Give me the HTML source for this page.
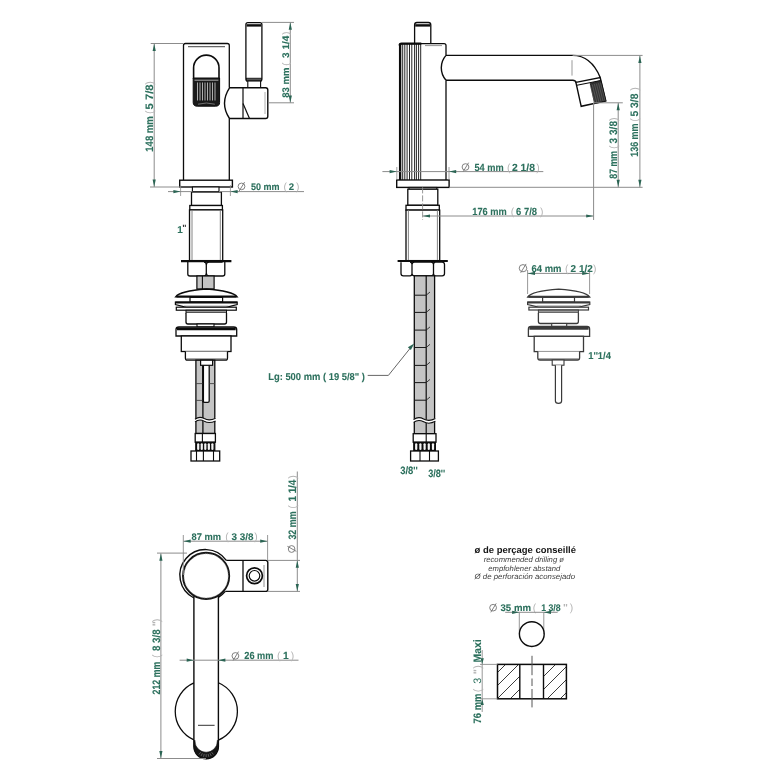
<!DOCTYPE html>
<html><head><meta charset="utf-8"><style>
html,body{margin:0;padding:0;background:#fff;width:767px;height:767px;overflow:hidden}
svg{display:block;will-change:transform}
text{text-rendering:geometricPrecision}
</style></head><body>
<svg width="767" height="767" viewBox="0 0 767 767" shape-rendering="geometricPrecision">
<rect x="0" y="0" width="767" height="767" fill="#fff"/>
<rect x="245.9" y="22.6" width="16.0" height="58.4" rx="2" fill="#fff" stroke="#0c0c0c" stroke-width="1.3"/>
<rect x="246.6" y="24.2" width="14.6" height="2.4" rx="0" fill="#0c0c0c" stroke="#0c0c0c" stroke-width="0"/>
<rect x="246.4" y="78.2" width="15.0" height="2.8" rx="0" fill="#555" stroke="#0c0c0c" stroke-width="0.8"/>
<rect x="247.8" y="81" width="12.8" height="7" rx="0" fill="#fff" stroke="#0c0c0c" stroke-width="1.1"/>
<path d="M183.5,180 L183.5,45.5 Q183.5,43.5 185.5,43.5 L227.3,43.5 Q229.3,43.5 229.3,45.5 L229.3,87.5 M229.3,118.8 L229.3,180" fill="none" stroke="#0c0c0c" stroke-width="1.3" />
<line x1="188" y1="46.6" x2="225" y2="46.6" stroke="#666" stroke-width="1.1" />
<path d="M193.6,79 L193.6,67.8 A12.7,12.7 0 0 1 219,67.8 L219,79" fill="none" stroke="#0c0c0c" stroke-width="1.6" />
<path d="M193.2,78 L219.6,78 L219.6,102.5 Q219.6,106.2 215.5,106.2 L197.3,106.2 Q193.2,106.2 193.2,102.5 Z" fill="#1a1a1a" stroke="#0c0c0c" stroke-width="1" />
<line x1="194.5" y1="80.2" x2="218.4" y2="80.2" stroke="#bbb" stroke-width="0.9" />
<line x1="197.5" y1="82.5" x2="197.5" y2="100.5" stroke="#c8c8c8" stroke-width="0.85" />
<line x1="200.0" y1="82.5" x2="200.0" y2="100.5" stroke="#c8c8c8" stroke-width="0.85" />
<line x1="202.5" y1="82.5" x2="202.5" y2="100.5" stroke="#c8c8c8" stroke-width="0.85" />
<line x1="205.0" y1="82.5" x2="205.0" y2="100.5" stroke="#c8c8c8" stroke-width="0.85" />
<line x1="207.5" y1="82.5" x2="207.5" y2="100.5" stroke="#c8c8c8" stroke-width="0.85" />
<line x1="210.0" y1="82.5" x2="210.0" y2="100.5" stroke="#c8c8c8" stroke-width="0.85" />
<line x1="212.5" y1="82.5" x2="212.5" y2="100.5" stroke="#c8c8c8" stroke-width="0.85" />
<line x1="215.0" y1="82.5" x2="215.0" y2="100.5" stroke="#c8c8c8" stroke-width="0.85" />
<path d="M198,104.2 Q206.4,101.8 214.8,104.2" fill="none" stroke="#888" stroke-width="0.8" />
<path d="M229.5,87.8 L265.6,87.8 Q267.8,87.8 267.8,90 L267.8,116.3 Q267.8,118.5 265.6,118.5 L229.5,118.5 Q219.5,103.2 229.5,87.8 Z" fill="#fff" stroke="#0c0c0c" stroke-width="1.4" />
<line x1="243" y1="87.8" x2="243" y2="118.5" stroke="#0c0c0c" stroke-width="1.2" />
<path d="M243,103.5 L249.5,118.5" fill="none" stroke="#0c0c0c" stroke-width="1.2" />
<line x1="265" y1="92" x2="265" y2="114" stroke="#999" stroke-width="0.8" />
<rect x="179.7" y="180.2" width="52.7" height="6.8" rx="0" fill="#fff" stroke="#0c0c0c" stroke-width="1.4"/>
<rect x="192.4" y="187" width="26.6" height="5" rx="0" fill="#fff" stroke="#0c0c0c" stroke-width="1.1"/>
<rect x="191.5" y="192" width="29.9" height="13.5" rx="0" fill="#fff" stroke="#0c0c0c" stroke-width="1.3"/>
<rect x="189.8" y="205.5" width="32.6" height="4.4" rx="0" fill="#fff" stroke="#0c0c0c" stroke-width="1.3"/>
<rect x="189.5" y="209.9" width="33.2" height="50.7" rx="0" fill="#fff" stroke="#0c0c0c" stroke-width="1.3"/>
<line x1="192" y1="210" x2="192" y2="260.6" stroke="#777" stroke-width="0.9" />
<line x1="220.3" y1="210" x2="220.3" y2="260.6" stroke="#777" stroke-width="0.9" />
<line x1="181" y1="261.2" x2="231.4" y2="261.2" stroke="#0c0c0c" stroke-width="2.2" />
<path d="M187.8,262 L187.8,274 Q187.8,276 190,276 L204,276 Q206.3,276 206.3,273 L206.3,265 Q206.3,262 204,262 M206.3,265 Q206.3,262 209,262 L222.6,262 L222.6,262 M206.3,273 Q206.3,276 209,276 L222.6,276 Q224.8,276 224.8,274 L224.8,262" fill="none" stroke="#0c0c0c" stroke-width="1.3" />
<rect x="196.9" y="276" width="17.2" height="13" rx="0" fill="#c4c4c4" stroke="#0c0c0c" stroke-width="1.2"/>
<line x1="202.4" y1="276" x2="202.4" y2="289" stroke="#0c0c0c" stroke-width="1.1" />
<path d="M175.6,296.8 Q180,291 206.3,289 Q232.6,291 237.2,296.8 Z" fill="#fff" stroke="#0c0c0c" stroke-width="1.3" />
<line x1="176.5" y1="296.6" x2="236.3" y2="296.6" stroke="#0c0c0c" stroke-width="2.0" />
<rect x="190" y="297.4" width="32.6" height="4.6" rx="0" fill="#fff" stroke="#0c0c0c" stroke-width="1.2"/>
<path d="M175.4,302.2 L237.2,302.2 L237.2,304.6 L226,307.4 L186.6,307.4 L175.4,304.6 Z" fill="#fff" stroke="#0c0c0c" stroke-width="1.2" />
<line x1="175.4" y1="302.6" x2="237.2" y2="302.6" stroke="#0c0c0c" stroke-width="2.0" />
<line x1="184" y1="306" x2="228.6" y2="306" stroke="#999" stroke-width="0.8" />
<rect x="176.3" y="307.2" width="60.0" height="3.0" rx="0" fill="#fff" stroke="#0c0c0c" stroke-width="1.2"/>
<rect x="186" y="310.2" width="40.5" height="2.8" rx="0" fill="#999" stroke="#0c0c0c" stroke-width="1.0"/>
<path d="M186,313 L186,322 Q186,324 188,324 L224.5,324 Q226.5,324 226.5,322 L226.5,313" fill="#fff" stroke="#0c0c0c" stroke-width="1.3" />
<rect x="197" y="324" width="17" height="3" rx="0" fill="#fff" stroke="#0c0c0c" stroke-width="1.1"/>
<path d="M176,336 L176,329.5 Q176,327 179,327 L233.7,327 Q236.7,327 236.7,329.5 L236.7,336 Z" fill="#fff" stroke="#0c0c0c" stroke-width="1.3" />
<line x1="177" y1="328.8" x2="235.7" y2="328.8" stroke="#0c0c0c" stroke-width="2.8" />
<rect x="181.3" y="336" width="49.7" height="15.5" rx="0" fill="#fff" stroke="#0c0c0c" stroke-width="1.3"/>
<path d="M185.4,351.5 L185.4,358 Q185.4,360.2 187.6,360.2 L225.3,360.2 Q227.5,360.2 227.5,358 L227.5,351.5" fill="#fff" stroke="#0c0c0c" stroke-width="1.3" />
<line x1="186.5" y1="359.2" x2="226.4" y2="359.2" stroke="#555" stroke-width="1.2" />
<rect x="195.9" y="360.2" width="18.9" height="73.3" rx="0" fill="#c4c4c4" stroke="#0c0c0c" stroke-width="1.3"/>
<line x1="202.9" y1="360.2" x2="202.9" y2="433.5" stroke="#0c0c0c" stroke-width="1.3" />
<path d="M203.2,365.2 L203.2,401 Q203.2,402.4 204.6,402.4 L207.8,402.4 Q209.2,402.4 209.2,401 L209.2,365.2" fill="#fff" stroke="#0c0c0c" stroke-width="1.3" />
<line x1="203.2" y1="365.2" x2="203.2" y2="402.4" stroke="#0c0c0c" stroke-width="1.7" />
<rect x="200.6" y="360.2" width="12.0" height="5.1" rx="0" fill="#fff" stroke="#0c0c0c" stroke-width="1.2"/>
<line x1="196" y1="383.6" x2="202.4" y2="383.6" stroke="#444" stroke-width="0.9" />
<line x1="196" y1="400.4" x2="202.4" y2="400.4" stroke="#444" stroke-width="0.9" />
<line x1="209.5" y1="383.6" x2="214.8" y2="383.6" stroke="#444" stroke-width="0.9" />
<path d="M194.5,419.5 Q199,415.5 204,418.5 Q209,421.5 216,417.5 L216,421 Q209,424.5 204,421.5 Q199,418.5 194.5,422 Z" fill="#fff" stroke="none"/>
<path d="M195,419.2 Q199.5,415.8 204.3,418.6 Q209.2,421.3 215.6,418.2" fill="none" stroke="#0c0c0c" stroke-width="1.1" />
<path d="M195,421.9 Q199.5,418.5 204.3,421.3 Q209.2,424 215.6,420.9" fill="none" stroke="#0c0c0c" stroke-width="1.1" />
<rect x="195.2" y="433.5" width="20.2" height="8.7" rx="0" fill="#fff" stroke="#0c0c0c" stroke-width="1.3"/>
<line x1="202.4" y1="433.5" x2="202.4" y2="442.2" stroke="#0c0c0c" stroke-width="1.1" />
<rect x="195.7" y="442.2" width="19.2" height="8.8" rx="0" fill="#0c0c0c" stroke="#0c0c0c" stroke-width="1.0"/>
<rect x="197.10" y="443.2" width="2.2" height="6.8" rx="1.1" fill="#f4f4f4"/>
<rect x="200.65" y="443.2" width="2.2" height="6.8" rx="1.1" fill="#f4f4f4"/>
<rect x="204.20" y="443.2" width="2.2" height="6.8" rx="1.1" fill="#f4f4f4"/>
<rect x="207.75" y="443.2" width="2.2" height="6.8" rx="1.1" fill="#f4f4f4"/>
<rect x="211.30" y="443.2" width="2.2" height="6.8" rx="1.1" fill="#f4f4f4"/>
<rect x="191" y="451" width="28.7" height="10" rx="0" fill="#fff" stroke="#0c0c0c" stroke-width="1.3"/>
<line x1="196.5" y1="451" x2="196.5" y2="461" stroke="#0c0c0c" stroke-width="1.1" />
<line x1="203.4" y1="451" x2="203.4" y2="461" stroke="#0c0c0c" stroke-width="1.1" />
<line x1="213.5" y1="451" x2="213.5" y2="461" stroke="#0c0c0c" stroke-width="1.1" />
<line x1="150.7" y1="43.5" x2="183" y2="43.5" stroke="#8c8c8c" stroke-width="1" />
<line x1="154.2" y1="43.5" x2="154.2" y2="187" stroke="#8c8c8c" stroke-width="1" />
<line x1="150" y1="187" x2="180" y2="187" stroke="#8c8c8c" stroke-width="1" />
<polygon points="154.20,43.70 152.60,50.90 155.80,50.90" fill="#2a6453"/>
<polygon points="154.20,186.80 152.60,179.60 155.80,179.60" fill="#2a6453"/>
<text transform="translate(153.4,151.7) rotate(-90)" x="0" y="0" textLength="35.5" lengthAdjust="spacingAndGlyphs" font-family="Liberation Sans" font-size="10.8" font-weight="bold" fill="#2c705d" stroke="#2c705d" stroke-width="0.1">148 mm</text>
<text transform="translate(153.4,113.2) rotate(-90)" x="-0.7" y="0" font-family="Liberation Sans" font-size="10.8" font-weight="normal" fill="#b4b4b4">(</text>
<text transform="translate(153.4,109.4) rotate(-90)" x="0" y="0" textLength="25.0" lengthAdjust="spacingAndGlyphs" font-family="Liberation Sans" font-size="10.8" font-weight="bold" fill="#2c705d" stroke="#2c705d" stroke-width="0.1">5 7/8</text>
<text transform="translate(153.4,84) rotate(-90)" x="-0.7" y="0" font-family="Liberation Sans" font-size="10.8" font-weight="normal" fill="#b4b4b4">)</text>
<line x1="262" y1="22.4" x2="294" y2="22.4" stroke="#8c8c8c" stroke-width="1" />
<line x1="269" y1="102.8" x2="294" y2="102.8" stroke="#8c8c8c" stroke-width="1" />
<line x1="290.3" y1="22.4" x2="290.3" y2="102.8" stroke="#8c8c8c" stroke-width="1" />
<polygon points="290.30,22.60 288.70,29.80 291.90,29.80" fill="#2a6453"/>
<polygon points="290.30,102.60 288.70,95.40 291.90,95.40" fill="#2a6453"/>
<text transform="translate(289.1,97.7) rotate(-90)" x="0" y="0" textLength="30.3" lengthAdjust="spacingAndGlyphs" font-family="Liberation Sans" font-size="9.6" font-weight="bold" fill="#2c705d" stroke="#2c705d" stroke-width="0.1">83 mm</text>
<text transform="translate(289.1,65) rotate(-90)" x="-0.7" y="0" font-family="Liberation Sans" font-size="9.6" font-weight="normal" fill="#b4b4b4">(</text>
<text transform="translate(289.1,58) rotate(-90)" x="0" y="0" textLength="22.4" lengthAdjust="spacingAndGlyphs" font-family="Liberation Sans" font-size="9.6" font-weight="bold" fill="#2c705d" stroke="#2c705d" stroke-width="0.1">3 1/4</text>
<text transform="translate(289.1,34) rotate(-90)" x="-0.7" y="0" font-family="Liberation Sans" font-size="9.6" font-weight="normal" fill="#b4b4b4">)</text>
<line x1="168" y1="191.6" x2="192.4" y2="191.6" stroke="#8c8c8c" stroke-width="1" />
<line x1="219" y1="191.6" x2="304" y2="191.6" stroke="#8c8c8c" stroke-width="1" />
<line x1="180.6" y1="185" x2="180.6" y2="196" stroke="#8c8c8c" stroke-width="0.8" />
<line x1="230.4" y1="185" x2="230.4" y2="196" stroke="#8c8c8c" stroke-width="0.8" />
<polygon points="180.60,191.60 173.40,190.00 173.40,193.20" fill="#2a6453"/>
<polygon points="230.40,191.60 237.60,190.00 237.60,193.20" fill="#2a6453"/>
<ellipse cx="241.5" cy="186.4" rx="3.4" ry="3.3" fill="none" stroke="#7a7a7a" stroke-width="0.95"/>
<line x1="244.6" y1="182.1" x2="239.2" y2="191.0" stroke="#7a7a7a" stroke-width="0.95"/>
<text x="250.9" y="190.2" textLength="28.6" lengthAdjust="spacingAndGlyphs" font-family="Liberation Sans" font-size="9.6" font-weight="bold" font-style="normal" fill="#2c705d" stroke="#2c705d" stroke-width="0.1">50 mm</text>
<text x="283.5" y="190.2" font-family="Liberation Sans" font-size="10.3" font-weight="normal" font-style="normal" fill="#b4b4b4">(</text>
<text x="288.7" y="190.2" font-family="Liberation Sans" font-size="9.6" font-weight="bold" font-style="normal" fill="#2c705d" stroke="#2c705d" stroke-width="0.1">2</text>
<text x="295.9" y="190.2" font-family="Liberation Sans" font-size="10.3" font-weight="normal" font-style="normal" fill="#b4b4b4">)</text>
<text x="177.2" y="232.9" font-family="Liberation Sans" font-size="10" font-weight="bold" font-style="normal" fill="#2c705d" stroke="#2c705d" stroke-width="0.1">1</text>
<text x="182.3" y="231" font-family="Liberation Sans" font-size="9" font-weight="bold" font-style="normal" fill="#333">"</text>
<path d="M414.6,43.6 L414.6,25 Q414.6,22.5 417,22.5 L428.4,22.5 Q430.8,22.5 430.8,25 L430.8,43.6" fill="#fff" stroke="#0c0c0c" stroke-width="1.3" />
<rect x="415.2" y="24.2" width="15.0" height="2.4" rx="0" fill="#0c0c0c" stroke="#0c0c0c" stroke-width="0"/>
<path d="M399.6,180 L399.6,45.6 Q399.6,43.6 401.6,43.6 L444,43.6 Q446,43.6 446,45.6 L446,55.2 M446,80.4 L446,180" fill="none" stroke="#0c0c0c" stroke-width="1.3" />
<rect x="399.2" y="43.8" width="2.1" height="136.2" rx="0" fill="#0c0c0c" stroke="#0c0c0c" stroke-width="0"/>
<line x1="402.7" y1="43.6" x2="402.7" y2="180" stroke="#1a1a1a" stroke-width="0.95" />
<line x1="404.8" y1="43.6" x2="404.8" y2="180" stroke="#1a1a1a" stroke-width="0.95" />
<line x1="407.1" y1="43.6" x2="407.1" y2="180" stroke="#1a1a1a" stroke-width="0.95" />
<line x1="409.5" y1="43.6" x2="409.5" y2="180" stroke="#1a1a1a" stroke-width="0.95" />
<line x1="411.8" y1="43.6" x2="411.8" y2="180" stroke="#1a1a1a" stroke-width="0.95" />
<line x1="414.6" y1="43.6" x2="414.6" y2="180" stroke="#1a1a1a" stroke-width="0.95" />
<line x1="416.4" y1="43.6" x2="416.4" y2="180" stroke="#1a1a1a" stroke-width="0.95" />
<line x1="418.6" y1="43.6" x2="418.6" y2="180" stroke="#1a1a1a" stroke-width="0.95" />
<line x1="420.7" y1="43.6" x2="420.7" y2="180" stroke="#1a1a1a" stroke-width="0.95" />
<path d="M399.6,45.6 Q399.6,43.6 401.6,43.6 L421.3,43.6" fill="none" stroke="#0c0c0c" stroke-width="2.2" />
<line x1="425" y1="45.6" x2="442" y2="45.6" stroke="#888" stroke-width="0.9" />
<path d="M446,55.4 L572.6,55.4 Q591,55.4 600.2,77.4 M446,80.3 L572.8,80.3 Q575.4,80.3 576.4,83" fill="none" stroke="#0c0c0c" stroke-width="1.4" />
<path d="M446,55.4 A18.8,18.8 0 0 0 446,80.3" fill="none" stroke="#0c0c0c" stroke-width="1.4" />
<line x1="572" y1="60.2" x2="572" y2="75.6" stroke="#999" stroke-width="1.0" />
<path d="M575.9,82.4 L600.2,77.6 L605.8,101 L581.2,106.3 Z" fill="#fff" stroke="#0c0c0c" stroke-width="1.4" />
<path d="M576.9,85.2 L600.9,80.5" fill="none" stroke="#0c0c0c" stroke-width="1.1" />
<path d="M590.2,83.4 L600.9,80.5 L605.8,101 L594.6,103.5 Z" fill="#333" stroke="#0c0c0c" stroke-width="0.8" />
<line x1="590.20" y1="85.00" x2="594.80" y2="103.00" stroke="#777" stroke-width="0.5"/>
<line x1="592.28" y1="84.56" x2="596.88" y2="102.56" stroke="#777" stroke-width="0.5"/>
<line x1="594.36" y1="84.12" x2="598.96" y2="102.12" stroke="#777" stroke-width="0.5"/>
<line x1="596.44" y1="83.68" x2="601.04" y2="101.68" stroke="#777" stroke-width="0.5"/>
<line x1="598.52" y1="83.24" x2="603.12" y2="101.24" stroke="#777" stroke-width="0.5"/>
<line x1="600.60" y1="82.80" x2="605.20" y2="100.80" stroke="#777" stroke-width="0.5"/>
<rect x="396.7" y="180" width="52.4" height="7.4" rx="0" fill="#fff" stroke="#0c0c0c" stroke-width="1.4"/>
<rect x="409" y="187.4" width="27.8" height="1.8" rx="0" fill="#fff" stroke="#0c0c0c" stroke-width="1.0"/>
<rect x="407.8" y="189.2" width="30.0" height="16.1" rx="0" fill="#fff" stroke="#0c0c0c" stroke-width="1.3"/>
<rect x="406" y="205.3" width="33.3" height="4.8" rx="0" fill="#fff" stroke="#0c0c0c" stroke-width="1.3"/>
<rect x="406" y="210.1" width="33.7" height="50.5" rx="0" fill="#fff" stroke="#0c0c0c" stroke-width="1.3"/>
<line x1="408.4" y1="210.1" x2="408.4" y2="260.6" stroke="#777" stroke-width="0.9" />
<line x1="437.4" y1="210.1" x2="437.4" y2="260.6" stroke="#777" stroke-width="0.9" />
<line x1="397.6" y1="261" x2="447.8" y2="261" stroke="#0c0c0c" stroke-width="2.2" />
<path d="M401,262.2 L401,273.5 Q401,275.8 403.3,275.8 L410,275.8 Q412,275.8 412,273.5 L412,264.5 Q412,262.2 410,262.2 M412,264.5 Q412,262.2 414.5,262.2 L431,262.2 Q433.5,262.2 433.5,264.5 L433.5,273.5 Q433.5,275.8 431,275.8 L414.5,275.8 Q412,275.8 412,273.5 M433.5,264.5 Q433.5,262.2 435.5,262.2 L442.2,262.2 Q444.5,262.2 444.5,264.5 L444.5,273.5 Q444.5,275.8 442.2,275.8 L435.5,275.8 Q433.5,275.8 433.5,273.5" fill="none" stroke="#0c0c0c" stroke-width="1.3" />
<rect x="414.3" y="275.8" width="20.3" height="157.9" rx="0" fill="#c4c4c4" stroke="#0c0c0c" stroke-width="1.3"/>
<line x1="426.2" y1="275.8" x2="426.2" y2="433.7" stroke="#0c0c0c" stroke-width="1.2" />
<line x1="414.3" y1="295.2" x2="426.2" y2="295.2" stroke="#1a1a1a" stroke-width="1.05" />
<line x1="426.2" y1="295.2" x2="430" y2="292.0" stroke="#222" stroke-width="0.85" />
<line x1="414.3" y1="312.4" x2="426.2" y2="312.4" stroke="#1a1a1a" stroke-width="1.05" />
<line x1="426.2" y1="312.4" x2="430" y2="309.2" stroke="#222" stroke-width="0.85" />
<line x1="414.3" y1="330.1" x2="426.2" y2="330.1" stroke="#1a1a1a" stroke-width="1.05" />
<line x1="426.2" y1="330.1" x2="430" y2="326.90000000000003" stroke="#222" stroke-width="0.85" />
<line x1="414.3" y1="347.5" x2="426.2" y2="347.5" stroke="#1a1a1a" stroke-width="1.05" />
<line x1="426.2" y1="347.5" x2="430" y2="344.3" stroke="#222" stroke-width="0.85" />
<line x1="414.3" y1="365.4" x2="426.2" y2="365.4" stroke="#1a1a1a" stroke-width="1.05" />
<line x1="426.2" y1="365.4" x2="430" y2="362.2" stroke="#222" stroke-width="0.85" />
<line x1="414.3" y1="382.6" x2="426.2" y2="382.6" stroke="#1a1a1a" stroke-width="1.05" />
<line x1="426.2" y1="382.6" x2="430" y2="379.40000000000003" stroke="#222" stroke-width="0.85" />
<line x1="414.3" y1="400.2" x2="426.2" y2="400.2" stroke="#1a1a1a" stroke-width="1.05" />
<line x1="426.2" y1="400.2" x2="430" y2="397.0" stroke="#222" stroke-width="0.85" />
<path d="M413,419.8 Q418,415.8 423.5,418.8 Q429,421.8 436,417.8 L436,421.5 Q429,425 423.5,422 Q418,419 413,422.5 Z" fill="#fff" stroke="none"/>
<path d="M413.6,419.6 Q418.3,416 423.6,419 Q429,422 435.4,418.5" fill="none" stroke="#0c0c0c" stroke-width="1.1" />
<path d="M413.6,422.4 Q418.3,418.8 423.6,421.8 Q429,424.8 435.4,421.3" fill="none" stroke="#0c0c0c" stroke-width="1.1" />
<rect x="413.2" y="433.7" width="22.8" height="8.5" rx="0" fill="#fff" stroke="#0c0c0c" stroke-width="1.3"/>
<line x1="426.2" y1="433.7" x2="426.2" y2="442.2" stroke="#0c0c0c" stroke-width="1.1" />
<rect x="413.7" y="442.2" width="21.8" height="8.8" rx="0" fill="#0c0c0c" stroke="#0c0c0c" stroke-width="1.0"/>
<rect x="415.10" y="443.2" width="2.2" height="6.8" rx="1.1" fill="#f4f4f4"/>
<rect x="419.30" y="443.2" width="2.2" height="6.8" rx="1.1" fill="#f4f4f4"/>
<rect x="423.50" y="443.2" width="2.2" height="6.8" rx="1.1" fill="#f4f4f4"/>
<rect x="427.70" y="443.2" width="2.2" height="6.8" rx="1.1" fill="#f4f4f4"/>
<rect x="431.90" y="443.2" width="2.2" height="6.8" rx="1.1" fill="#f4f4f4"/>
<rect x="410.6" y="451" width="27.8" height="10" rx="0" fill="#fff" stroke="#0c0c0c" stroke-width="1.3"/>
<line x1="420" y1="451" x2="420" y2="461" stroke="#0c0c0c" stroke-width="1.1" />
<line x1="429.5" y1="451" x2="429.5" y2="461" stroke="#0c0c0c" stroke-width="1.1" />
<text x="400.2" y="473.8" textLength="17.6" lengthAdjust="spacingAndGlyphs" font-family="Liberation Sans" font-size="10.6" font-weight="bold" font-style="normal" fill="#2c705d" stroke="#2c705d" stroke-width="0.1">3/8''</text>
<text x="428.2" y="476.5" textLength="17.0" lengthAdjust="spacingAndGlyphs" font-family="Liberation Sans" font-size="10.6" font-weight="bold" font-style="normal" fill="#2c705d" stroke="#2c705d" stroke-width="0.1">3/8''</text>
<line x1="382.4" y1="171.6" x2="543.3" y2="171.6" stroke="#8c8c8c" stroke-width="1" />
<line x1="396.8" y1="167" x2="396.8" y2="180" stroke="#8c8c8c" stroke-width="0.8" />
<line x1="449" y1="167" x2="449" y2="180" stroke="#8c8c8c" stroke-width="0.8" />
<polygon points="396.80,171.60 389.60,170.00 389.60,173.20" fill="#2a6453"/>
<polygon points="449.00,171.60 456.20,170.00 456.20,173.20" fill="#2a6453"/>
<ellipse cx="465.5" cy="167" rx="3.4" ry="3.3" fill="none" stroke="#7a7a7a" stroke-width="0.95"/>
<line x1="468.6" y1="162.7" x2="463.2" y2="171.6" stroke="#7a7a7a" stroke-width="0.95"/>
<text x="474.4" y="170.6" textLength="29.2" lengthAdjust="spacingAndGlyphs" font-family="Liberation Sans" font-size="10.3" font-weight="bold" font-style="normal" fill="#2c705d" stroke="#2c705d" stroke-width="0.1">54 mm</text>
<text x="506.9" y="170.6" font-family="Liberation Sans" font-size="10.3" font-weight="normal" font-style="normal" fill="#b4b4b4">(</text>
<text x="512" y="170.6" textLength="22.9" lengthAdjust="spacingAndGlyphs" font-family="Liberation Sans" font-size="10.3" font-weight="bold" font-style="normal" fill="#2c705d" stroke="#2c705d" stroke-width="0.1">2 1/8</text>
<text x="536.3" y="170.6" font-family="Liberation Sans" font-size="10.3" font-weight="normal" font-style="normal" fill="#b4b4b4">)</text>
<line x1="422.6" y1="187.4" x2="422.6" y2="220" stroke="#8c8c8c" stroke-width="0.9" stroke-dasharray="6,2"/>
<line x1="593.6" y1="103" x2="593.6" y2="220" stroke="#8c8c8c" stroke-width="1" />
<line x1="422.6" y1="216" x2="593.6" y2="216" stroke="#8c8c8c" stroke-width="1" />
<polygon points="422.80,216.00 430.00,214.40 430.00,217.60" fill="#2a6453"/>
<polygon points="593.40,216.00 586.20,214.40 586.20,217.60" fill="#2a6453"/>
<text x="472.3" y="215.4" textLength="34.5" lengthAdjust="spacingAndGlyphs" font-family="Liberation Sans" font-size="10.3" font-weight="bold" font-style="normal" fill="#2c705d" stroke="#2c705d" stroke-width="0.1">176 mm</text>
<text x="510.7" y="215.4" font-family="Liberation Sans" font-size="10.3" font-weight="normal" font-style="normal" fill="#b4b4b4">(</text>
<text x="516.1" y="215.4" textLength="20.9" lengthAdjust="spacingAndGlyphs" font-family="Liberation Sans" font-size="10.3" font-weight="bold" font-style="normal" fill="#2c705d" stroke="#2c705d" stroke-width="0.1">6 7/8</text>
<text x="539.9" y="215.4" font-family="Liberation Sans" font-size="10.3" font-weight="normal" font-style="normal" fill="#b4b4b4">)</text>
<line x1="572.6" y1="55.4" x2="642.6" y2="55.4" stroke="#8c8c8c" stroke-width="1" />
<line x1="449.1" y1="187.3" x2="642.6" y2="187.3" stroke="#8c8c8c" stroke-width="1" />
<line x1="593.6" y1="102.8" x2="622.8" y2="102.8" stroke="#8c8c8c" stroke-width="1" />
<line x1="639.9" y1="55.6" x2="639.9" y2="187.3" stroke="#8c8c8c" stroke-width="1" />
<line x1="618.2" y1="102.8" x2="618.2" y2="187.3" stroke="#8c8c8c" stroke-width="1" />
<polygon points="639.90,55.80 638.30,63.00 641.50,63.00" fill="#2a6453"/>
<polygon points="639.90,187.00 638.30,179.80 641.50,179.80" fill="#2a6453"/>
<polygon points="618.20,103.00 616.60,110.20 619.80,110.20" fill="#2a6453"/>
<polygon points="618.20,187.00 616.60,179.80 619.80,179.80" fill="#2a6453"/>
<text transform="translate(616.8,178.7) rotate(-90)" x="0" y="0" textLength="27.9" lengthAdjust="spacingAndGlyphs" font-family="Liberation Sans" font-size="10.8" font-weight="bold" fill="#2c705d" stroke="#2c705d" stroke-width="0.1">87 mm</text>
<text transform="translate(616.8,148.2) rotate(-90)" x="-0.7" y="0" font-family="Liberation Sans" font-size="10.8" font-weight="normal" fill="#b4b4b4">(</text>
<text transform="translate(616.8,143.4) rotate(-90)" x="0" y="0" textLength="22.4" lengthAdjust="spacingAndGlyphs" font-family="Liberation Sans" font-size="10.8" font-weight="bold" fill="#2c705d" stroke="#2c705d" stroke-width="0.1">3 3/8</text>
<text transform="translate(616.8,120.3) rotate(-90)" x="-0.7" y="0" font-family="Liberation Sans" font-size="10.8" font-weight="normal" fill="#b4b4b4">)</text>
<text transform="translate(638.2,156.8) rotate(-90)" x="0" y="0" textLength="33.3" lengthAdjust="spacingAndGlyphs" font-family="Liberation Sans" font-size="10.8" font-weight="bold" fill="#2c705d" stroke="#2c705d" stroke-width="0.1">136 mm</text>
<text transform="translate(638.2,121) rotate(-90)" x="-0.7" y="0" font-family="Liberation Sans" font-size="10.8" font-weight="normal" fill="#b4b4b4">(</text>
<text transform="translate(638.2,116.5) rotate(-90)" x="0" y="0" textLength="23.0" lengthAdjust="spacingAndGlyphs" font-family="Liberation Sans" font-size="10.8" font-weight="bold" fill="#2c705d" stroke="#2c705d" stroke-width="0.1">5 3/8</text>
<text transform="translate(638.2,90) rotate(-90)" x="-0.7" y="0" font-family="Liberation Sans" font-size="10.8" font-weight="normal" fill="#b4b4b4">)</text>
<text x="268.2" y="379.6" textLength="96.8" lengthAdjust="spacingAndGlyphs" font-family="Liberation Sans" font-size="10" font-weight="bold" font-style="normal" fill="#2c705d" stroke="#2c705d" stroke-width="0.1">Lg: 500 mm ( 19 5/8" )</text>
<path d="M367.7,375.4 L388.4,375.4 L411.5,346.6" fill="none" stroke="#666" stroke-width="1.0" />
<polygon points="414.2,343.6 407.9,347.2 410.9,350.0" fill="#2a6453"/>
<path d="M527.8,297 Q532,291.2 558.7,289.2 Q585.4,291.2 589.6,297 Z" fill="#fff" stroke="#3a3a3a" stroke-width="1.3" />
<line x1="528.8" y1="296.8" x2="588.6" y2="296.8" stroke="#3a3a3a" stroke-width="2.0" />
<rect x="542.6" y="297.4" width="31.9" height="4.8" rx="0" fill="#fff" stroke="#3a3a3a" stroke-width="1.2"/>
<path d="M527.6,302.2 L589.8,302.2 L589.8,304.6 L578.6,307.2 L538.8,307.2 L527.6,304.6 Z" fill="#fff" stroke="#3a3a3a" stroke-width="1.2" />
<line x1="527.6" y1="302.6" x2="589.8" y2="302.6" stroke="#3a3a3a" stroke-width="2.0" />
<line x1="536.5" y1="305.8" x2="581" y2="305.8" stroke="#999" stroke-width="0.8" />
<rect x="528.9" y="307.2" width="59.6" height="2.8" rx="0" fill="#fff" stroke="#3a3a3a" stroke-width="1.2"/>
<rect x="538.4" y="310" width="40.0" height="3" rx="0" fill="#999" stroke="#3a3a3a" stroke-width="1.0"/>
<path d="M538.4,313 L538.4,321.6 Q538.4,323.5 540.3,323.5 L576.5,323.5 Q578.4,323.5 578.4,321.6 L578.4,313" fill="#fff" stroke="#3a3a3a" stroke-width="1.3" />
<rect x="551.7" y="323.5" width="15.0" height="3.0" rx="0" fill="#fff" stroke="#3a3a3a" stroke-width="1.1"/>
<path d="M528.4,336.3 L528.4,329 Q528.4,326.5 531,326.5 L587,326.5 Q589.6,326.5 589.6,329 L589.6,336.3 Z" fill="#fff" stroke="#3a3a3a" stroke-width="1.3" />
<line x1="529.4" y1="328.3" x2="588.6" y2="328.3" stroke="#3a3a3a" stroke-width="2.8" />
<rect x="534.2" y="336.3" width="49.3" height="15.3" rx="0" fill="#fff" stroke="#3a3a3a" stroke-width="1.3"/>
<path d="M537.8,351.6 L537.8,357.8 Q537.8,360 540,360 L577.4,360 Q579.6,360 579.6,357.8 L579.6,351.6" fill="#fff" stroke="#3a3a3a" stroke-width="1.3" />
<line x1="538.8" y1="359" x2="578.6" y2="359" stroke="#555" stroke-width="1.2" />
<rect x="552.2" y="360" width="11.8" height="5.2" rx="0" fill="#fff" stroke="#3a3a3a" stroke-width="1.1"/>
<path d="M555.4,365.2 L555.4,401 Q555.4,403.3 558.5,403.3 Q561.6,403.3 561.6,401 L561.6,365.2" fill="#fff" stroke="#3a3a3a" stroke-width="1.2" />
<text x="588.2" y="359.2" textLength="22.7" lengthAdjust="spacingAndGlyphs" font-family="Liberation Sans" font-size="10" font-weight="bold" font-style="normal" fill="#2c705d" stroke="#2c705d" stroke-width="0.1">1''1/4</text>
<line x1="527.6" y1="270" x2="527.6" y2="294" stroke="#8c8c8c" stroke-width="0.9" />
<line x1="589.6" y1="270" x2="589.6" y2="294" stroke="#8c8c8c" stroke-width="0.9" />
<line x1="527.6" y1="273.4" x2="589.6" y2="273.4" stroke="#8c8c8c" stroke-width="1" />
<polygon points="527.80,273.40 535.00,271.80 535.00,275.00" fill="#2a6453"/>
<polygon points="589.40,273.40 582.20,271.80 582.20,275.00" fill="#2a6453"/>
<ellipse cx="523" cy="268.2" rx="3.8" ry="3.6" fill="none" stroke="#7a7a7a" stroke-width="0.95"/>
<line x1="526.1" y1="263.9" x2="520.7" y2="272.8" stroke="#7a7a7a" stroke-width="0.95"/>
<text x="531.5" y="272" textLength="30.0" lengthAdjust="spacingAndGlyphs" font-family="Liberation Sans" font-size="10" font-weight="bold" font-style="normal" fill="#2c705d" stroke="#2c705d" stroke-width="0.1">64 mm</text>
<text x="565.1" y="272" font-family="Liberation Sans" font-size="10.3" font-weight="normal" font-style="normal" fill="#b4b4b4">(</text>
<text x="570.6" y="272" textLength="22.2" lengthAdjust="spacingAndGlyphs" font-family="Liberation Sans" font-size="10" font-weight="bold" font-style="normal" fill="#2c705d" stroke="#2c705d" stroke-width="0.1">2 1/2</text>
<text x="592.9" y="272" font-family="Liberation Sans" font-size="10.3" font-weight="normal" font-style="normal" fill="#b4b4b4">)</text>
<path d="M193.9,596 L193.9,746.5 A12.25,12.25 0 0 0 218.4,746.5 L218.4,596" fill="#fff" stroke="#0c0c0c" stroke-width="1.4" />
<path d="M193.9,740.5 L193.9,746.5 A12.25,12.25 0 0 0 218.4,746.5 L218.4,740.5 L217.2,740.5 L217.2,741.6 A11.05,10.6 0 0 1 195.1,741.6 L195.1,740.5 Z" fill="#161616" stroke="#0c0c0c" stroke-width="0.5" />
<line x1="211.56" y1="752.18" x2="213.45" y2="754.51" stroke="#8a8a8a" stroke-width="0.6"/>
<line x1="209.92" y1="753.23" x2="211.24" y2="755.93" stroke="#8a8a8a" stroke-width="0.6"/>
<line x1="208.08" y1="753.88" x2="208.76" y2="756.80" stroke="#8a8a8a" stroke-width="0.6"/>
<line x1="206.15" y1="754.10" x2="206.15" y2="757.10" stroke="#8a8a8a" stroke-width="0.6"/>
<line x1="204.22" y1="753.88" x2="203.54" y2="756.80" stroke="#8a8a8a" stroke-width="0.6"/>
<line x1="202.38" y1="753.23" x2="201.06" y2="755.93" stroke="#8a8a8a" stroke-width="0.6"/>
<line x1="200.74" y1="752.18" x2="198.85" y2="754.51" stroke="#8a8a8a" stroke-width="0.6"/>
<path d="M193.9,682.9 A31.1,31.1 0 0 0 193.9,739.9" fill="none" stroke="#0c0c0c" stroke-width="1.3" />
<path d="M218.4,682.75 A31.1,31.1 0 0 1 218.4,740.05" fill="none" stroke="#0c0c0c" stroke-width="1.3" />
<line x1="198" y1="725.3" x2="214.6" y2="725.3" stroke="#333" stroke-width="1.0" />
<path d="M226.3,560.4 L265.6,560.4 Q267.8,560.4 267.8,562.6 L267.8,589.2 Q267.8,591.4 265.6,591.4 L225.3,591.4" fill="none" stroke="#0c0c0c" stroke-width="1.4" />
<line x1="243" y1="560.4" x2="243" y2="591.4" stroke="#0c0c0c" stroke-width="1.3" />
<circle cx="254.5" cy="575.8" r="7.9" fill="#fff" stroke="#0c0c0c" stroke-width="1.7"/>
<circle cx="254.5" cy="575.8" r="5.3" fill="#fff" stroke="#0c0c0c" stroke-width="1.2"/>
<line x1="264" y1="565" x2="264" y2="587" stroke="#777" stroke-width="0.8" />
<path d="M193.9,598 A25.6,25.6 0 1 1 226.3,560.3" fill="none" stroke="#0c0c0c" stroke-width="1.4" />
<path d="M225.3,591.4 A25.6,25.6 0 0 1 218.4,597.3" fill="none" stroke="#0c0c0c" stroke-width="1.4" />
<circle cx="206.1" cy="575.9" r="23.1" fill="#fff" stroke="#161616" stroke-width="1.9"/>
<circle cx="206.1" cy="575.9" r="22.1" fill="none" stroke="#999" stroke-width="0.8" stroke-dasharray="0.7,1.1"/>
<line x1="183.3" y1="535" x2="183.3" y2="575" stroke="#8c8c8c" stroke-width="0.9" />
<line x1="267.6" y1="535" x2="267.6" y2="560" stroke="#8c8c8c" stroke-width="0.9" />
<line x1="183.3" y1="541.2" x2="267.6" y2="541.2" stroke="#8c8c8c" stroke-width="1" />
<polygon points="183.50,541.20 190.70,539.60 190.70,542.80" fill="#2a6453"/>
<polygon points="267.40,541.20 260.20,539.60 260.20,542.80" fill="#2a6453"/>
<text x="191.5" y="539.6" textLength="29.5" lengthAdjust="spacingAndGlyphs" font-family="Liberation Sans" font-size="9.7" font-weight="bold" font-style="normal" fill="#2c705d" stroke="#2c705d" stroke-width="0.1">87 mm</text>
<text x="225.3" y="539.8" font-family="Liberation Sans" font-size="10.3" font-weight="normal" font-style="normal" fill="#b4b4b4">(</text>
<text x="231.5" y="539.6" textLength="22.0" lengthAdjust="spacingAndGlyphs" font-family="Liberation Sans" font-size="9.7" font-weight="bold" font-style="normal" fill="#2c705d" stroke="#2c705d" stroke-width="0.1">3 3/8</text>
<text x="254.3" y="539.8" font-family="Liberation Sans" font-size="10.3" font-weight="normal" font-style="normal" fill="#b4b4b4">)</text>
<line x1="157" y1="553.1" x2="187" y2="553.1" stroke="#8c8c8c" stroke-width="1" />
<line x1="157" y1="758.5" x2="206" y2="758.5" stroke="#8c8c8c" stroke-width="1" />
<line x1="160.9" y1="553.3" x2="160.9" y2="758.4" stroke="#8c8c8c" stroke-width="1" />
<polygon points="160.90,553.50 159.30,560.70 162.50,560.70" fill="#2a6453"/>
<polygon points="160.90,758.20 159.30,751.00 162.50,751.00" fill="#2a6453"/>
<text transform="translate(159.7,694.5) rotate(-90)" x="0" y="0" textLength="32.9" lengthAdjust="spacingAndGlyphs" font-family="Liberation Sans" font-size="10.8" font-weight="bold" fill="#2c705d" stroke="#2c705d" stroke-width="0.1">212 mm</text>
<text transform="translate(159.7,657.2) rotate(-90)" x="-0.7" y="0" font-family="Liberation Sans" font-size="10.8" font-weight="normal" fill="#b4b4b4">(</text>
<text transform="translate(159.7,651) rotate(-90)" x="0" y="0" textLength="21.6" lengthAdjust="spacingAndGlyphs" font-family="Liberation Sans" font-size="10.8" font-weight="bold" fill="#2c705d" stroke="#2c705d" stroke-width="0.1">8 3/8</text>
<text transform="translate(159.7,625.6) rotate(-90)" x="-0.7" y="0" font-family="Liberation Sans" font-size="10.8" font-weight="bold" fill="#b4b4b4">"</text>
<text transform="translate(159.7,621.6) rotate(-90)" x="-0.7" y="0" font-family="Liberation Sans" font-size="10.8" font-weight="normal" fill="#b4b4b4">)</text>
<line x1="268" y1="560.4" x2="300" y2="560.4" stroke="#8c8c8c" stroke-width="1" />
<line x1="268" y1="591.4" x2="300" y2="591.4" stroke="#8c8c8c" stroke-width="1" />
<line x1="297.3" y1="471.5" x2="297.3" y2="591.4" stroke="#8c8c8c" stroke-width="1" />
<polygon points="297.30,560.60 295.70,567.80 298.90,567.80" fill="#2a6453"/>
<polygon points="297.30,591.20 295.70,584.00 298.90,584.00" fill="#2a6453"/>
<text transform="translate(295.8,539.6) rotate(-90)" x="0" y="0" textLength="28.2" lengthAdjust="spacingAndGlyphs" font-family="Liberation Sans" font-size="10.8" font-weight="bold" fill="#2c705d" stroke="#2c705d" stroke-width="0.1">32 mm</text>
<text transform="translate(295.8,508) rotate(-90)" x="-0.7" y="0" font-family="Liberation Sans" font-size="10.8" font-weight="normal" fill="#b4b4b4">(</text>
<text transform="translate(295.8,501.5) rotate(-90)" x="0" y="0" textLength="21.8" lengthAdjust="spacingAndGlyphs" font-family="Liberation Sans" font-size="10.8" font-weight="bold" fill="#2c705d" stroke="#2c705d" stroke-width="0.1">1 1/4</text>
<text transform="translate(295.8,478) rotate(-90)" x="-0.7" y="0" font-family="Liberation Sans" font-size="10.8" font-weight="normal" fill="#b4b4b4">)</text>
<ellipse cx="291.6" cy="549" rx="3.3" ry="3.4" fill="none" stroke="#7a7a7a" stroke-width="0.95"/>
<line x1="287.4" y1="546.3" x2="296.3" y2="551.3" stroke="#7a7a7a" stroke-width="0.95"/>
<line x1="179.6" y1="660.2" x2="298.5" y2="660.2" stroke="#8c8c8c" stroke-width="1" />
<polygon points="193.90,660.20 186.70,658.60 186.70,661.80" fill="#2a6453"/>
<polygon points="218.20,660.20 225.40,658.60 225.40,661.80" fill="#2a6453"/>
<ellipse cx="235.4" cy="655.9" rx="3.4" ry="3.3" fill="none" stroke="#7a7a7a" stroke-width="0.95"/>
<line x1="238.5" y1="651.6" x2="233.1" y2="660.5" stroke="#7a7a7a" stroke-width="0.95"/>
<text x="244.3" y="659.3" textLength="29.2" lengthAdjust="spacingAndGlyphs" font-family="Liberation Sans" font-size="10.3" font-weight="bold" font-style="normal" fill="#2c705d" stroke="#2c705d" stroke-width="0.1">26 mm</text>
<text x="277.1" y="659.3" font-family="Liberation Sans" font-size="10.3" font-weight="normal" font-style="normal" fill="#b4b4b4">(</text>
<text x="283.1" y="659.3" font-family="Liberation Sans" font-size="10.3" font-weight="bold" font-style="normal" fill="#2c705d" stroke="#2c705d" stroke-width="0.1">1</text>
<text x="290.8" y="659.3" font-family="Liberation Sans" font-size="10.3" font-weight="normal" font-style="normal" fill="#b4b4b4">)</text>
<text x="474.6" y="553.1" textLength="101.3" lengthAdjust="spacingAndGlyphs" font-family="Liberation Sans" font-size="9.4" font-weight="bold" font-style="normal" fill="#141414">ø de perçage conseillé</text>
<text x="483.7" y="562.3" textLength="80.3" lengthAdjust="spacingAndGlyphs" font-family="Liberation Sans" font-size="7.7" font-weight="normal" font-style="italic" fill="#404040">recommended drilling ø</text>
<text x="488.3" y="570.6" textLength="72.1" lengthAdjust="spacingAndGlyphs" font-family="Liberation Sans" font-size="7.7" font-weight="normal" font-style="italic" fill="#404040">empfohlener abstand</text>
<text x="474.6" y="579.2" textLength="100.4" lengthAdjust="spacingAndGlyphs" font-family="Liberation Sans" font-size="7.7" font-weight="normal" font-style="italic" fill="#404040">Ø de perforación aconsejado</text>
<ellipse cx="493.1" cy="607.7" rx="3.4" ry="3.3" fill="none" stroke="#7a7a7a" stroke-width="0.95"/>
<line x1="496.20000000000005" y1="603.4000000000001" x2="490.8" y2="612.3000000000001" stroke="#7a7a7a" stroke-width="0.95"/>
<text x="500.5" y="611" textLength="30.5" lengthAdjust="spacingAndGlyphs" font-family="Liberation Sans" font-size="9.6" font-weight="bold" font-style="normal" fill="#2c705d" stroke="#2c705d" stroke-width="0.1">35 mm</text>
<text x="532.7" y="611" font-family="Liberation Sans" font-size="10.3" font-weight="normal" font-style="normal" fill="#b4b4b4">(</text>
<text x="541.2" y="611" textLength="19.5" lengthAdjust="spacingAndGlyphs" font-family="Liberation Sans" font-size="9.6" font-weight="bold" font-style="normal" fill="#2c705d" stroke="#2c705d" stroke-width="0.1">1 3/8</text>
<text x="562.9" y="611" font-family="Liberation Sans" font-size="10.3" font-weight="bold" font-style="normal" fill="#b4b4b4">"</text>
<text x="569.7" y="611" font-family="Liberation Sans" font-size="10.3" font-weight="normal" font-style="normal" fill="#b4b4b4">)</text>
<line x1="505.2" y1="612.3" x2="557.6" y2="612.3" stroke="#8c8c8c" stroke-width="1" />
<line x1="519.3" y1="612.3" x2="519.3" y2="634" stroke="#8c8c8c" stroke-width="0.9" />
<line x1="543.8" y1="612.3" x2="543.8" y2="634" stroke="#8c8c8c" stroke-width="0.9" />
<polygon points="519.30,612.30 512.10,610.70 512.10,613.90" fill="#2a6453"/>
<polygon points="543.80,612.30 551.00,610.70 551.00,613.90" fill="#2a6453"/>
<circle cx="531.8" cy="634.1" r="12.4" fill="none" stroke="#0c0c0c" stroke-width="1.4"/>
<defs><clipPath id="cl"><rect x="497.5" y="664.4" width="22.3" height="34.4"/></clipPath><clipPath id="cr"><rect x="543.5" y="664.4" width="22.9" height="34.4"/></clipPath></defs>
<path d="M432,712 L492,652 M445,712 L505,652 M458,712 L518,652 M471,712 L531,652 M484,712 L544,652 M497,712 L557,652 M510,712 L570,652 M523,712 L583,652 M536,712 L596,652 M549,712 L609,652" stroke="#333" stroke-width="0.95" clip-path="url(#cl)"/>
<path d="M482,712 L542,652 M495,712 L555,652 M508,712 L568,652 M521,712 L581,652 M534,712 L594,652 M547,712 L607,652 M560,712 L620,652 M573,712 L633,652 M586,712 L646,652 M599,712 L659,652" stroke="#333" stroke-width="0.95" clip-path="url(#cr)"/>
<rect x="497.5" y="664.4" width="68.9" height="34.4" rx="0" fill="none" stroke="#0c0c0c" stroke-width="1.5"/>
<line x1="519.8" y1="664.4" x2="519.8" y2="698.8" stroke="#0c0c0c" stroke-width="1.4" />
<line x1="543.5" y1="664.4" x2="543.5" y2="698.8" stroke="#0c0c0c" stroke-width="1.4" />
<line x1="532" y1="655.8" x2="532" y2="707.4" stroke="#555" stroke-width="1.0" stroke-dasharray="19.4,3.3,7.5,3,30"/>
<line x1="480" y1="664.4" x2="497.5" y2="664.4" stroke="#8c8c8c" stroke-width="0.9" />
<line x1="480" y1="698.8" x2="497.5" y2="698.8" stroke="#8c8c8c" stroke-width="0.9" />
<line x1="482.2" y1="650" x2="482.2" y2="712" stroke="#8c8c8c" stroke-width="0.9" />
<polygon points="482.20,664.20 480.60,658.20 483.80,658.20" fill="#2a6453"/>
<polygon points="482.20,699.00 480.60,705.00 483.80,705.00" fill="#2a6453"/>
<text transform="translate(481.3,723.4) rotate(-90)" x="0" y="0" textLength="29.9" lengthAdjust="spacingAndGlyphs" font-family="Liberation Sans" font-size="10.8" font-weight="bold" fill="#2c705d" stroke="#2c705d" stroke-width="0.1">76 mm</text>
<text transform="translate(481.3,691.6) rotate(-90)" x="-0.7" y="0" font-family="Liberation Sans" font-size="10.8" font-weight="normal" fill="#b4b4b4">(</text>
<text transform="translate(481.3,683) rotate(-90)" x="-0.7" y="0" font-family="Liberation Sans" font-size="10.8" font-weight="normal" fill="#2c705d">3</text>
<text transform="translate(481.3,673.6) rotate(-90)" x="-0.7" y="0" font-family="Liberation Sans" font-size="10.8" font-weight="bold" fill="#b4b4b4">"</text>
<text transform="translate(481.3,668) rotate(-90)" x="-0.7" y="0" font-family="Liberation Sans" font-size="10.8" font-weight="normal" fill="#b4b4b4">)</text>
<text transform="translate(481.3,662.4) rotate(-90)" x="0" y="0" textLength="22.9" lengthAdjust="spacingAndGlyphs" font-family="Liberation Sans" font-size="10.8" font-weight="bold" fill="#2c705d" stroke="#2c705d" stroke-width="0.1">Maxi</text>
</svg>
</body></html>
